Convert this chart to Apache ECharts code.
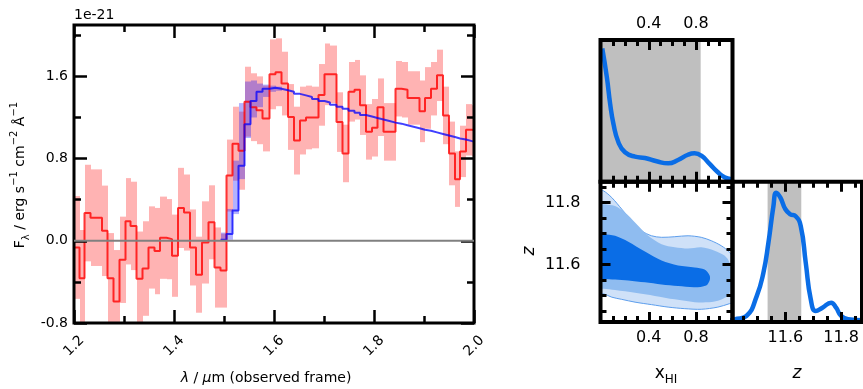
<!DOCTYPE html>
<html>
<head>
<meta charset="utf-8">
<script src="https://cdn.jsdelivr.net/npm/echarts@6.0.0/dist/echarts.min.js"></script>
<style>
  html, body { margin: 0; background: #fff; }
  #chart { width: 863px; height: 389px; }
</style>
</head>
<body>
<div id="chart"></div>
<script>
const FONT = 'DejaVu Sans';

// spectrum bins (micron edges), flux and 1-sigma error in 1e-21 erg/s/cm2/A
const binEdges = [1.199, 1.211, 1.221, 1.233, 1.245, 1.256, 1.267, 1.279, 1.291, 1.303,
  1.313, 1.325, 1.337, 1.349, 1.361, 1.372, 1.385, 1.396, 1.408, 1.42,
  1.432, 1.444, 1.456, 1.469, 1.481, 1.493, 1.505, 1.517, 1.529, 1.541,
  1.553, 1.565, 1.577, 1.591, 1.603, 1.615, 1.628, 1.64, 1.652, 1.664,
  1.676, 1.689, 1.701, 1.712, 1.725, 1.737, 1.749, 1.761, 1.772, 1.784,
  1.796, 1.807, 1.819, 1.831, 1.843, 1.855, 1.867, 1.879, 1.891, 1.902,
  1.914, 1.926, 1.938, 1.95, 1.962, 1.972, 1.984, 1.996, 2.008];
const flux = [-0.065, -0.365, 0.27, 0.225, 0.225, 0.097, -0.365, -0.59, -0.185, 0.19,
  0.145, -0.37, -0.27, -0.065, -0.10, 0.03, 0.016, -0.145, 0.32, 0.275,
  -0.065, -0.33, -0.016, 0.18, -0.26, -0.29, 0.635, 0.945, 0.877, 1.354,
  1.30, 1.27, 1.19, 1.62, 1.64, 1.53, 1.205, 0.975, 1.17, 1.20,
  1.20, 1.42, 1.62, 1.62, 1.155, 0.85, 1.45, 1.47, 1.32, 1.06,
  1.10, 1.30, 1.06, 1.06, 1.48, 1.47, 1.39, 1.39, 1.26, 1.39,
  1.48, 1.61, 1.22, 0.85, 0.60, 0.87, 1.08, 1.07];
const fluxErr = [0.50, 0.47, 0.47, 0.47, 0.47, 0.44, 0.44, 0.50, 0.42, 0.42,
  0.43, 0.46, 0.46, 0.40, 0.42, 0.40, 0.39, 0.40, 0.39, 0.37,
  0.37, 0.37, 0.40, 0.36, 0.39, 0.36, 0.35, 0.36, 0.38, 0.34,
  0.33, 0.33, 0.32, 0.34, 0.33, 0.31, 0.32, 0.33, 0.33, 0.31,
  0.30, 0.30, 0.30, 0.28, 0.29, 0.28, 0.29, 0.29, 0.29, 0.27,
  0.28, 0.28, 0.28, 0.28, 0.27, 0.27, 0.26, 0.26, 0.30, 0.30,
  0.26, 0.25, 0.28, 0.31, 0.27, 0.25, 0.25, 0.25];

// model spectrum, starts at bin 25
const modelFirstBin = 25;
const modelFlux = [0.01, 0.065, 0.295, 0.73, 1.135, 1.36, 1.45, 1.48, 1.49, 1.48,
  1.465, 1.45, 1.43, 1.415, 1.40, 1.38, 1.36, 1.345, 1.325, 1.305,
  1.285, 1.265, 1.245, 1.225, 1.21, 1.195, 1.18, 1.165, 1.15, 1.14,
  1.125, 1.11, 1.095, 1.08, 1.07, 1.055, 1.04, 1.025, 1.01, 0.995,
  0.985, 0.97, 0.955];
const modelLo = [0.0, 0.01, 0.26, 0.6, 1.0, 1.2, 1.3, 1.40, 1.45, 1.46];
const modelHi = [0.08, 0.31, 0.78, 1.34, 1.55, 1.56, 1.53, 1.52, 1.51, 1.50];

const zeroLevel = 0;
const specXTicks = [1.2, 1.4, 1.6, 1.8, 2.0];
const specXMinor = [1.3, 1.5, 1.7, 1.9];
const specYTicks = [-0.8, 0.0, 0.8, 1.6];
const specYMinor = [-0.4, 0.4, 1.2, 2.0];

// corner plot
const xhiKde = [[0.005, 0.94], [0.044, 0.737], [0.072, 0.549], [0.10, 0.408], [0.142, 0.279],
  [0.198, 0.208], [0.283, 0.177], [0.367, 0.168], [0.466, 0.145], [0.564, 0.130],
  [0.648, 0.154], [0.732, 0.191], [0.789, 0.201], [0.846, 0.184], [0.916, 0.126],
  [0.986, 0.067], [1.042, 0.032], [1.09, 0.02], [1.12, 0.015]];
const xhiShade = [-0.02, 0.84];
const zKde = [[11.40, 0.012], [11.418, 0.019], [11.46, 0.043], [11.497, 0.185], [11.521, 0.352],
  [11.539, 0.566], [11.557, 0.827], [11.567, 0.922], [11.582, 0.887], [11.60, 0.804],
  [11.618, 0.768], [11.636, 0.756], [11.655, 0.685], [11.673, 0.423], [11.691, 0.162],
  [11.709, 0.078], [11.733, 0.102], [11.764, 0.138], [11.782, 0.102], [11.80, 0.043],
  [11.825, 0.019], [11.88, 0.012]];
const zShade = [11.536, 11.657];

const contourOuter = [[-0.05, 11.845], [0.015, 11.838], [0.086, 11.816], [0.170, 11.779], [0.255, 11.741],
  [0.339, 11.709], [0.423, 11.693], [0.508, 11.688], [0.620, 11.690], [0.733, 11.693],
  [0.845, 11.688], [0.930, 11.677], [1.014, 11.661], [1.084, 11.640], [1.13, 11.61],
  [1.14, 11.55], [1.13, 11.48], [1.084, 11.474], [0.986, 11.463], [0.845, 11.456],
  [0.705, 11.458], [0.564, 11.463], [0.423, 11.471], [0.283, 11.479], [0.170, 11.488],
  [0.086, 11.495], [0.015, 11.506], [-0.05, 11.51]];
const contourMid = [[-0.05, 11.797], [0.015, 11.795], [0.114, 11.789], [0.198, 11.768], [0.283, 11.736],
  [0.395, 11.693], [0.508, 11.666], [0.620, 11.656], [0.733, 11.652], [0.845, 11.656],
  [0.958, 11.645], [1.042, 11.629], [1.084, 11.607], [1.10, 11.565], [1.09, 11.517],
  [1.070, 11.499], [0.958, 11.481], [0.789, 11.479], [0.620, 11.488], [0.451, 11.499],
  [0.283, 11.509], [0.114, 11.518], [0.015, 11.522], [-0.05, 11.523]];
const contourInner = [[-0.05, 11.70], [0.015, 11.698], [0.114, 11.693], [0.226, 11.674], [0.367, 11.642],
  [0.508, 11.613], [0.648, 11.597], [0.789, 11.591], [0.873, 11.584], [0.916, 11.565],
  [0.916, 11.549], [0.887, 11.533], [0.789, 11.527], [0.648, 11.531], [0.508, 11.536],
  [0.367, 11.543], [0.226, 11.549], [0.114, 11.552], [0.015, 11.554], [-0.05, 11.555]];

const xhiTicks = [0.4, 0.8];
const xhiMinor = [0.1, 0.2, 0.3, 0.5, 0.6, 0.7, 0.9, 1.0];
const zTicks = [11.6, 11.8];
const zMinor = [11.45, 11.5, 11.55, 11.65, 11.7, 11.75, 11.85];

const BLUE = '#0a6de6';

// helpers
function stepLine(edges, values, first) {
  const pts = values.map((v, i) => [edges[first + i], v]);
  pts.push([edges[first + values.length], values[values.length - 1]]);
  return pts;
}
// one rectangle per spectral bin, from lo to hi
function binBand(edges, lo, hi, first, fill) {
  return {
    type: 'custom', xAxisIndex: 0, yAxisIndex: 0, clip: true, silent: true,
    encode: { x: [0, 1], y: [2, 3] },
    data: lo.map((v, i) => [edges[first + i], edges[first + i + 1], v, hi[i]]),
    renderItem: (params, api) => {
      const p0 = api.coord([api.value(0), api.value(3)]);
      const p1 = api.coord([api.value(1), api.value(2)]);
      const x0 = Math.round(p0[0]), x1 = Math.round(p1[0]);
      return {
        type: 'rect',
        shape: { x: x0, y: p0[1], width: x1 - x0, height: p1[1] - p0[1] },
        style: { fill: fill }
      };
    }
  };
}
function polySeries(points, xi, yi, style) {
  return {
    type: 'custom', xAxisIndex: xi, yAxisIndex: yi, clip: true, silent: true,
    data: [points[1]],
    renderItem: (params, api) => ({
      type: 'polygon',
      shape: { points: points.map(p => api.coord(p)), smooth: style.smooth || 0 },
      style: { fill: style.fill, stroke: style.stroke || null, lineWidth: style.lineWidth || 0 }
    })
  };
}
function tickAxis(grid, position, range, values, len, width, labels, labelStyle) {
  return {
    type: 'value', gridIndex: grid, position: position, min: range[0], max: range[1], z: 6,
    splitLine: { show: false },
    axisLine: { show: false, onZero: false },
    axisTick: { show: true, inside: true, length: len, customValues: values,
      lineStyle: { color: '#000', width: width } },
    axisLabel: labels
      ? Object.assign({ show: true, customValues: labels, color: '#000', fontFamily: FONT,
          formatter: v => v.toFixed(1) }, labelStyle)
      : { show: false }
  };
}

const specX = [1.2, 2.0], specY = [-0.8, 2.1];
const xhiRange = [-0.01, 1.11], zRangeX = [11.41, 11.875], zRangeY = [11.415, 11.867];

const xLab = { fontSize: 14, rotate: 45, align: 'center', verticalAlign: 'middle', margin: 23 };
const yLab = { fontSize: 14, margin: 6 };
const cLab = { fontSize: 16, margin: 8 };

const xAxes = [
  tickAxis(0, 'bottom', specX, specXTicks, 13, 2.5, specXTicks, xLab),   // 0
  tickAxis(0, 'bottom', specX, specXMinor, 7, 2.5),
  tickAxis(0, 'top', specX, specXTicks, 13, 2.5),
  tickAxis(0, 'top', specX, specXMinor, 7, 2.5),
  tickAxis(1, 'top', xhiRange, xhiTicks, 10, 3, xhiTicks, cLab),         // 4
  tickAxis(1, 'top', xhiRange, xhiMinor, 6, 3),
  tickAxis(1, 'bottom', xhiRange, xhiTicks, 10, 3),
  tickAxis(1, 'bottom', xhiRange, xhiMinor, 6, 3),
  tickAxis(2, 'bottom', xhiRange, xhiTicks, 10, 3, xhiTicks, cLab),      // 8
  tickAxis(2, 'bottom', xhiRange, xhiMinor, 6, 3),
  tickAxis(2, 'top', xhiRange, xhiTicks, 10, 3),
  tickAxis(2, 'top', xhiRange, xhiMinor, 6, 3),
  tickAxis(3, 'bottom', zRangeX, zTicks, 10, 3, zTicks, cLab),           // 12
  tickAxis(3, 'bottom', zRangeX, zMinor, 6, 3),
  tickAxis(3, 'top', zRangeX, zTicks, 10, 3),
  tickAxis(3, 'top', zRangeX, zMinor, 6, 3)
];
const yAxes = [
  tickAxis(0, 'left', specY, specYTicks, 13, 2.5, specYTicks, yLab),     // 0
  tickAxis(0, 'left', specY, specYMinor, 7, 2.5),
  tickAxis(0, 'right', specY, specYTicks, 13, 2.5),
  tickAxis(0, 'right', specY, specYMinor, 7, 2.5),
  { type: 'value', gridIndex: 1, min: 0, max: 1, show: false },          // 4
  tickAxis(2, 'left', zRangeY, zTicks, 10, 3, zTicks, { fontSize: 16, margin: 20 }), // 5
  tickAxis(2, 'left', zRangeY, zMinor, 6, 3),
  tickAxis(2, 'right', zRangeY, zTicks, 10, 3),
  tickAxis(2, 'right', zRangeY, zMinor, 6, 3),
  { type: 'value', gridIndex: 3, min: 0, max: 1, show: false }           // 9
];

const fluxLo = flux.map((v, i) => v - fluxErr[i]);
const fluxHi = flux.map((v, i) => v + fluxErr[i]);

const series = [
  binBand(binEdges, fluxLo, fluxHi, 0, '#ffb3b3'),
  binBand(binEdges, modelLo, modelHi, modelFirstBin, 'rgba(0,0,255,0.3)'),
  {
    type: 'line', xAxisIndex: 0, yAxisIndex: 0, step: 'end', symbol: 'none', clip: true, silent: true,
    data: stepLine(binEdges, flux, 0),
    lineStyle: { color: 'rgba(255,0,0,0.8)', width: 2 }
  },
  {
    type: 'line', xAxisIndex: 0, yAxisIndex: 0, step: 'end', symbol: 'none', clip: true, silent: true,
    data: stepLine(binEdges, modelFlux, modelFirstBin),
    lineStyle: { color: 'rgba(0,0,255,0.75)', width: 2 }
  },
  {
    type: 'line', xAxisIndex: 0, yAxisIndex: 0, symbol: 'none', silent: true, z: 7,
    data: [[specX[0], zeroLevel], [specX[1], zeroLevel]],
    lineStyle: { color: '#808080', width: 2 }
  },
  // x_HI marginal
  polySeries([[xhiShade[0], 0], [xhiShade[1], 0], [xhiShade[1], 1], [xhiShade[0], 1]], 4, 4, { fill: '#bfbfbf' }),
  {
    type: 'line', xAxisIndex: 4, yAxisIndex: 4, symbol: 'none', smooth: 0.5,
    clip: true, silent: true, data: xhiKde, lineStyle: { color: BLUE, width: 4.5 }
  },
  // joint contours
  polySeries(contourOuter, 8, 5, { fill: '#cfe1f8', stroke: '#5d9eec', lineWidth: 1, smooth: 0.3 }),
  polySeries(contourMid, 8, 5, { fill: '#8fbcf0', smooth: 0.3 }),
  polySeries(contourInner, 8, 5, { fill: BLUE, smooth: 0.3 }),
  // z marginal
  polySeries([[zShade[0], 0], [zShade[1], 0], [zShade[1], 1], [zShade[0], 1]], 12, 9, { fill: '#bfbfbf' }),
  {
    type: 'line', xAxisIndex: 12, yAxisIndex: 9, symbol: 'none', smooth: 0.5,
    clip: true, silent: true, data: zKde, lineStyle: { color: BLUE, width: 4.5 }
  }
];

const rich = {
  n: { fontSize: 14, fontFamily: FONT, lineHeight: 22, verticalAlign: 'middle' },
  i: { fontSize: 14, fontFamily: FONT, fontStyle: 'italic', lineHeight: 22, verticalAlign: 'middle' },
  sp: { fontSize: 10, fontFamily: FONT, lineHeight: 12, verticalAlign: 'top' },
  sb: { fontSize: 10, fontFamily: FONT, lineHeight: 12, verticalAlign: 'bottom' },
  c: { fontSize: 17, fontFamily: FONT, lineHeight: 24, verticalAlign: 'middle' },
  ci: { fontSize: 17, fontFamily: FONT, fontStyle: 'italic', lineHeight: 24, verticalAlign: 'middle' },
  cs: { fontSize: 12, fontFamily: FONT, lineHeight: 14, verticalAlign: 'bottom' }
};

const chart = echarts.init(document.getElementById('chart'), null, { renderer: 'canvas' });
chart.setOption({
  animation: false,
  backgroundColor: '#fff',
  grid: [
    { left: 74, top: 25, width: 400, height: 298, show: true, borderColor: '#000', borderWidth: 3, z: 5 },
    { left: 600.5, top: 40, width: 132, height: 141.8, show: true, borderColor: '#000', borderWidth: 4, z: 5 },
    { left: 600.5, top: 181.8, width: 132, height: 140.2, show: true, borderColor: '#000', borderWidth: 4, z: 5 },
    { left: 732.5, top: 181.8, width: 129.5, height: 140.2, show: true, borderColor: '#000', borderWidth: 4, z: 5 }
  ],
  xAxis: xAxes,
  yAxis: yAxes,
  series: series,
  graphic: [
    { type: 'text', x: 74, y: 15, style: { text: '1e-21', font: '14px "DejaVu Sans"', fill: '#000',
      align: 'left', verticalAlign: 'middle' } },
    { type: 'text', x: 20, y: 175, rotation: Math.PI / 2, style: {
      text: '{n|F}{sb|λ}{n| / erg s}{sp|−1}{n| cm}{sp|−2}{n| Å}{sp|−1}',
      rich: rich, fill: '#000', align: 'center', verticalAlign: 'middle' } },
    { type: 'text', x: 266, y: 378, style: {
      text: '{i|λ}{n| / }{i|μ}{n|m (observed frame)}',
      rich: rich, fill: '#000', align: 'center', verticalAlign: 'middle' } },
    { type: 'text', x: 666, y: 374, style: {
      text: '{c|x}{cs|HI}', rich: rich, fill: '#000', align: 'center', verticalAlign: 'middle' } },
    { type: 'text', x: 797, y: 374, style: {
      text: '{ci|z}', rich: rich, fill: '#000', align: 'center', verticalAlign: 'middle' } },
    { type: 'text', x: 530, y: 251, rotation: Math.PI / 2, style: {
      text: '{ci|z}', rich: rich, fill: '#000', align: 'center', verticalAlign: 'middle' } }
  ]
});
</script>
</body>
</html>
